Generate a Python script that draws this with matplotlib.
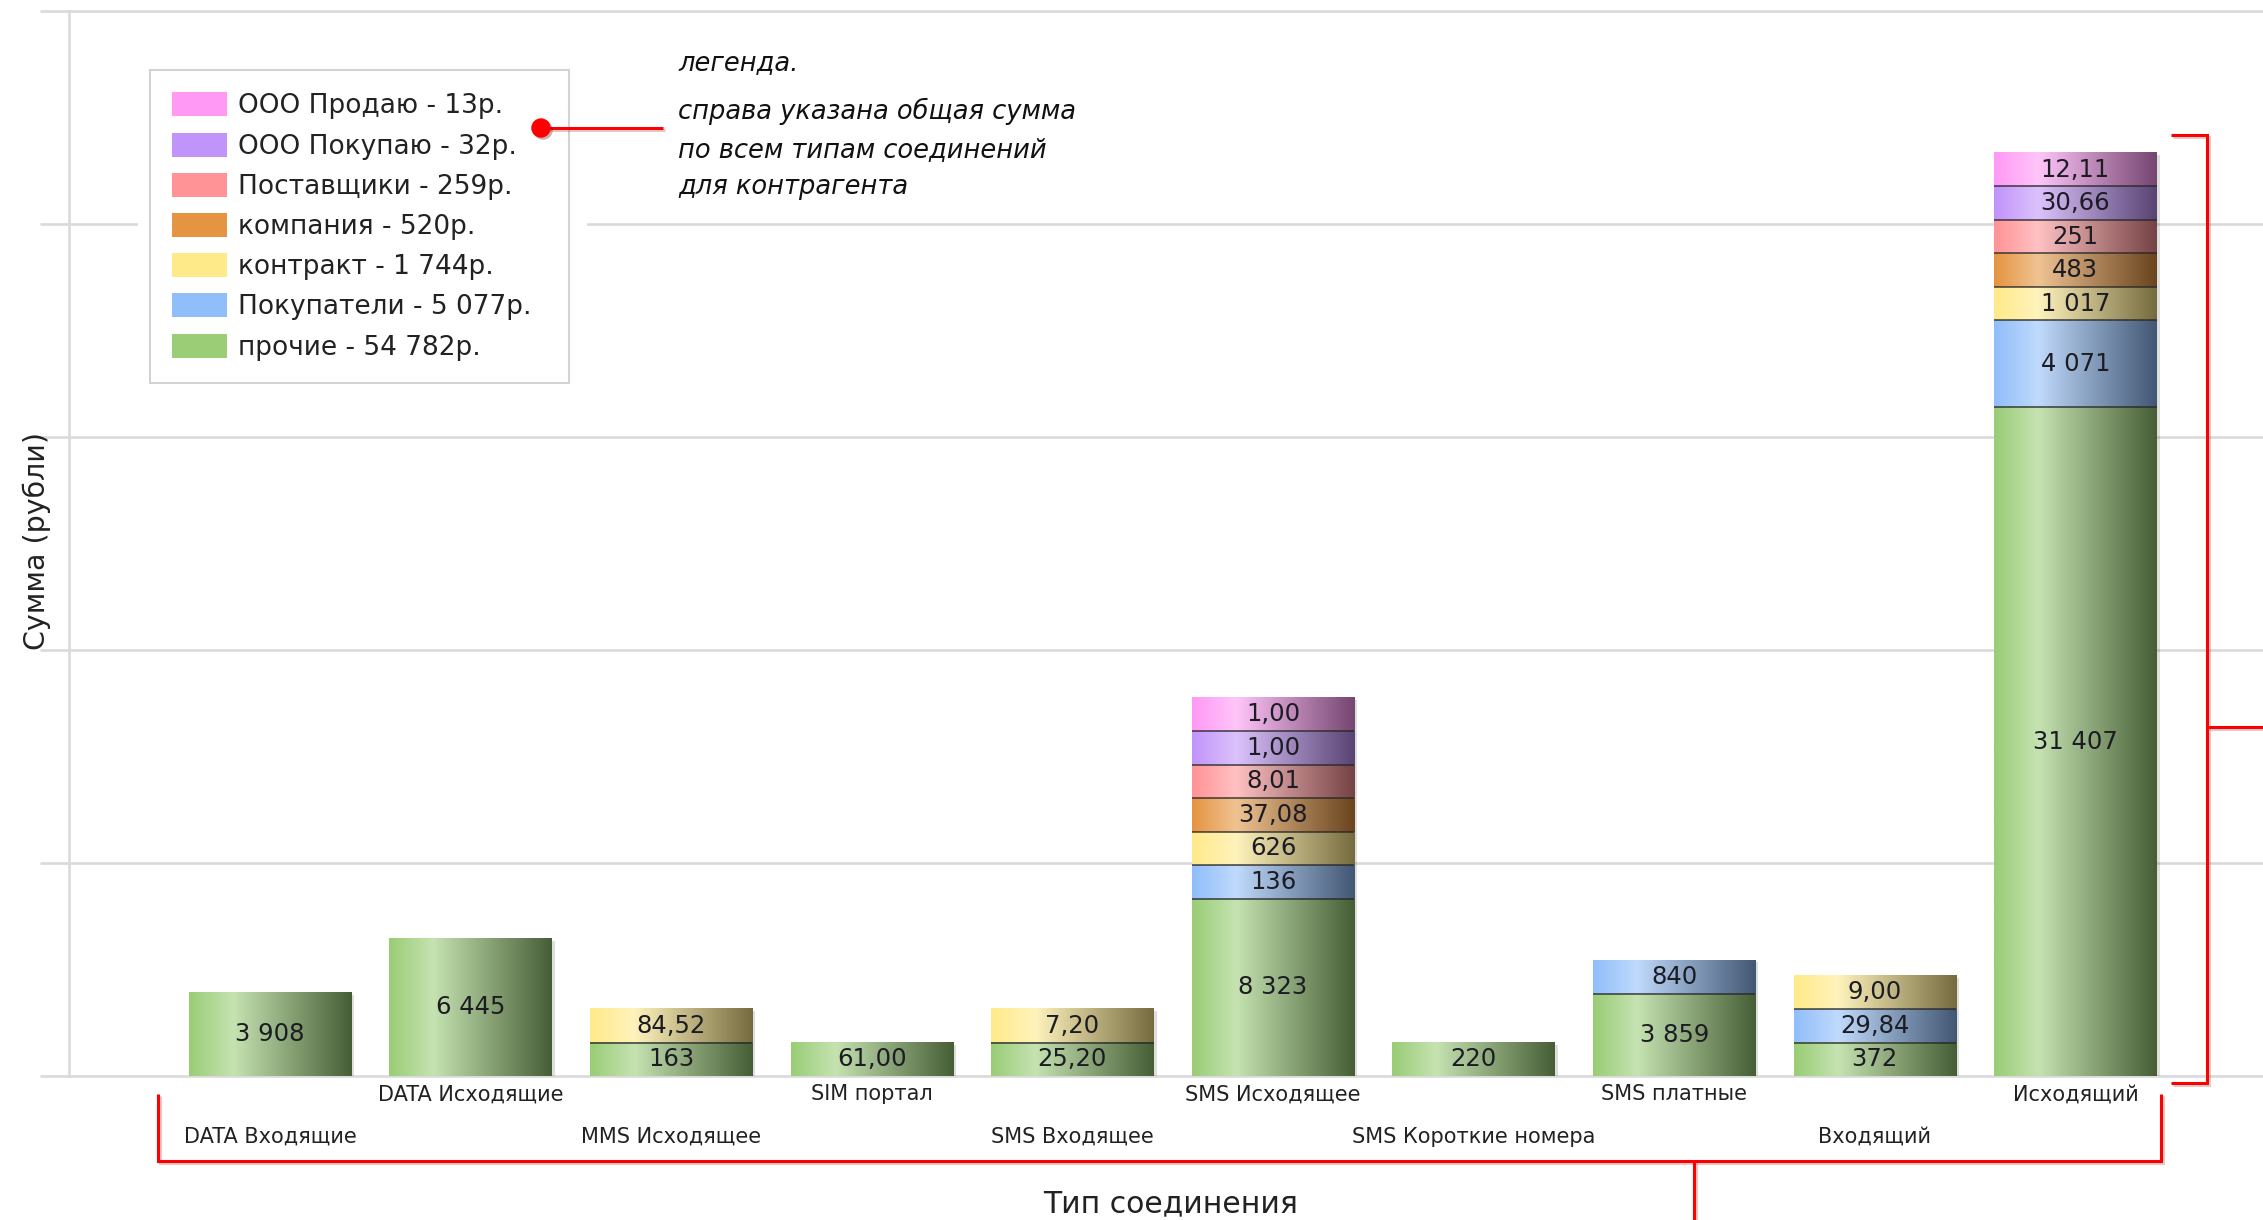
import numpy as np
import matplotlib
matplotlib.use("Agg")
import matplotlib.pyplot as plt
from matplotlib.patches import Patch, Rectangle
from matplotlib.lines import Line2D
import matplotlib.patheffects as pe
from matplotlib.colors import to_rgb

# ---------------- data ----------------
categories = ["DATA Входящие", "DATA Исходящие", "MMS Исходящее", "SIM портал",
              "SMS Входящее", "SMS Исходящее", "SMS Короткие номера", "SMS платные",
              "Входящий", "Исходящий"]

# stacked series, bottom -> top
prochie      = [3908, 6445, 163, 61.00, 25.20, 8323, 220, 3859, 372, 31407]
pokupateli   = [0, 0, 0, 0, 0, 136, 0, 840, 29.84, 4071]
kontrakt     = [0, 0, 84.52, 0, 7.20, 626, 0, 0, 9.00, 1017]
kompaniya    = [0, 0, 0, 0, 0, 37.08, 0, 0, 0, 483]
postavshiki  = [0, 0, 0, 0, 0, 8.01, 0, 0, 0, 251]
ooo_pokupayu = [0, 0, 0, 0, 0, 1.00, 0, 0, 0, 30.66]
ooo_prodayu  = [0, 0, 0, 0, 0, 1.00, 0, 0, 0, 12.11]

series = [prochie, pokupateli, kontrakt, kompaniya, postavshiki, ooo_pokupayu, ooo_prodayu]
series_colors = ["#9ACD76", "#90BEFA", "#FFEA8A", "#E59541", "#FF9396", "#C194FA", "#FF99F5"]

legend_labels = ["ООО Продаю - 13р.", "ООО Покупаю - 32р.", "Поставщики - 259р.",
                 "компания - 520р.", "контракт - 1 744р.", "Покупатели - 5 077р.",
                 "прочие - 54 782р."]

y_max = 50000
y_step = 10000

# ---------------- layout ----------------
W, H = 2263, 1220
fig = plt.figure(figsize=(W / 100, H / 100), dpi=100)
fig.patch.set_facecolor("white")


def fx(px):
    return px / W


def fy(py):
    return 1 - py / H


ax_left, ax_right, ax_top, ax_bottom = 69, 2263, 0, 1080
ax = fig.add_axes([fx(ax_left), fy(ax_bottom), (ax_right - ax_left) / W, (ax_bottom - ax_top) / H])

y0_px, ytop_px = 1076, 11
s = (y0_px - ytop_px) / y_max          # pixels per unit
ax.set_ylim(-(ax_bottom - y0_px) / s, y_max + (ytop_px - ax_top) / s)
slot, first_px = 200.6, 270
ax.set_xlim(-(first_px - ax_left) / slot, (ax_right - first_px) / slot)

bar_w = 0.81
min_h = 33.5 / s                        # minimal visible segment height


def gradient(color, n=96):
    base = np.array(to_rgb(color))
    light = base + (1 - base) * 0.43
    dark = base * 0.46
    t = np.linspace(0, 1, n)
    out = np.zeros((1, n, 3))
    for k in range(3):
        out[0, :, k] = np.interp(t, [0, 0.27, 1.0], [base[k], light[k], dark[k]])
    return np.clip(out, 0, 1)


def fmt(v):
    if v >= 100:
        return f"{int(round(v)):,}".replace(",", " ")
    return f"{v:.2f}".replace(".", ",")


grads = [gradient(c) for c in series_colors]

for i in range(len(categories)):
    bottom = 0.0
    for j, vals in enumerate(series):
        v = vals[i]
        if v <= 0:
            continue
        h = max(v, min_h)
        ax.imshow(grads[j], extent=(i - bar_w / 2, i + bar_w / 2, bottom, bottom + h),
                  aspect="auto", interpolation="bilinear", zorder=2)
        if bottom > 0:
            ax.plot([i - bar_w / 2, i + bar_w / 2], [bottom, bottom], color="#262626",
                    alpha=0.75, lw=1.3, zorder=3, solid_capstyle="butt")
        ax.text(i, bottom + h / 2, fmt(v), ha="center", va="center", fontsize=17.5,
                color="#1c1c24", zorder=4)
        bottom += h
    # soft shadow to the right of the bar
    ax.add_patch(Rectangle((i + bar_w / 2, 0), 3 / slot, bottom - 2 / s,
                           facecolor="black", alpha=0.13, edgecolor="none", zorder=1.6))

# axes styling
ax.set_yticks(np.arange(0, y_max + 1, y_step))
ax.tick_params(axis="y", length=21, width=1.9, color="#DADADA", labelleft=False, direction="out")
ax.yaxis.grid(True, color="#DADADA", lw=1.9)
ax.set_axisbelow(True)
for sp in ["top", "right", "bottom"]:
    ax.spines[sp].set_visible(False)
ax.spines["left"].set_color("#DADADA")
ax.spines["left"].set_linewidth(1.9)
ax.spines["left"].set_bounds(0, y_max)

xpos = np.arange(len(categories))
ax.set_xticks(xpos[1::2])
ax.set_xticklabels(categories[1::2])
ax.set_xticks(xpos[0::2], minor=True)
ax.set_xticklabels(categories[0::2], minor=True)
ax.tick_params(axis="x", which="both", length=0, labelsize=15, labelcolor="#222222")
ax.tick_params(axis="x", which="major", pad=3.0)
ax.tick_params(axis="x", which="minor", pad=33.5)

ax.set_xlabel("Тип соединения", fontsize=21.5, color="#222222")
ax.xaxis.set_label_coords(fx(1171), fy(1189), transform=fig.transFigure)
ax.set_ylabel("Сумма (рубли)", fontsize=20.5, color="#222222")
ax.yaxis.set_label_coords(fx(51), fy(541), transform=fig.transFigure)

# legend
handles = [Patch(facecolor=c, edgecolor="none") for c in reversed(series_colors)]
leg = ax.legend(handles, legend_labels, loc="upper left",
                bbox_to_anchor=(fx(150), fy(383), (569 - 150) / W, (383 - 70) / H),
                bbox_transform=fig.transFigure, mode="expand", borderaxespad=0,
                prop={"size": 19}, handlelength=2.05, handleheight=1.02, handletextpad=0.45,
                labelspacing=0.5, borderpad=0.85, frameon=True, fancybox=False,
                edgecolor="#D2D2D2", framealpha=1, facecolor="white")
leg.get_frame().set_linewidth(1.5)
for t in leg.get_texts():
    t.set_color("#222222")
leg.set_zorder(6)

# white gap around the legend on the grid
ax.add_patch(Rectangle((fx(138), fy(400)), fx(587) - fx(138), fy(60) - fy(400),
                       transform=fig.transFigure, facecolor="white", edgecolor="none",
                       zorder=1.2, clip_on=False))

# ---------------- red annotation marks ----------------
red = "#FF0000"
shadow = [pe.SimpleLineShadow(offset=(1.5, -1.5), shadow_color="#a05050", alpha=0.3), pe.Normal()]


def fig_line(xs, ys):
    ln = Line2D([fx(x) for x in xs], [fy(y) for y in ys], transform=fig.transFigure,
                color=red, lw=2.2, solid_joinstyle="miter", solid_capstyle="butt",
                path_effects=shadow, zorder=10)
    fig.add_artist(ln)


fig_line([541, 663], [128, 128])
fig.add_artist(Line2D([fx(541)], [fy(128)], transform=fig.transFigure, marker="o",
                      markersize=14, color=red, markeredgewidth=0, zorder=11,
                      path_effects=[pe.SimplePatchShadow(offset=(1.5, -1.5), alpha=0.3), pe.Normal()]))
# bottom bracket
fig_line([158, 158, 2161, 2161], [1094, 1161, 1161, 1094])
fig_line([1694, 1694], [1161, 1222])
# right bracket
fig_line([2171, 2207, 2207, 2171], [135, 135, 1083, 1083])
fig_line([2207, 2265], [727, 727])

# annotation text
fig.text(fx(678), fy(70), "легенда.", fontsize=18.5, style="italic", va="baseline",
         ha="left", color="#111111")
for txt, yb in [("справа указана общая сумма", 119),
                ("по всем типам соединений", 157),
                ("для контрагента", 194)]:
    fig.text(fx(678), fy(yb), txt, fontsize=18.5, style="italic", va="baseline",
             ha="left", color="#111111")

fig.savefig("out.png", dpi=100, facecolor="white")
